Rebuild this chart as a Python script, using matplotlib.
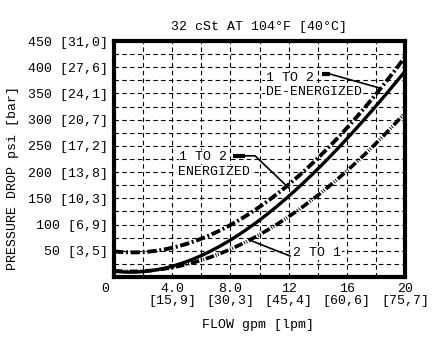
import matplotlib
matplotlib.use("Agg")
import matplotlib.pyplot as plt
import matplotlib.transforms as mtransforms
import numpy as np

# flow (gpm) and pressure drop (psi)
flow = [0, 2, 4, 6, 8, 10, 12, 14, 16, 18, 20]
deenergized = [47, 50, 57, 72, 98, 133, 176, 226, 285, 350, 418]
energized = [10, 12, 21, 40, 70, 108, 154, 206, 264, 326, 392]
two_to_one = [10, 13, 20, 32, 53, 79, 112, 155, 205, 258, 310]

yticks = [50, 100, 150, 200, 250, 300, 350, 400, 450]
ylabels = ["50 [3,5]", "100 [6,9]", "150 [10,3]", "200 [13,8]", "250 [17,2]",
           "300 [20,7]", "350 [24,1]", "400 [27,6]", "450 [31,0]"]
xticks = [0, 4, 8, 12, 16, 20]
xlabels = ["0", "4.0\n[15,9]", "8.0\n[30,3]", "12\n[45,4]", "16\n[60,6]", "20\n[75,7]"]

plt.rcParams['font.family'] = ['Liberation Mono', 'DejaVu Sans Mono']
fs = 9.5

fig = plt.figure(figsize=(4.34, 3.6), dpi=100)
ax = fig.add_axes([0.2627, 0.2306, 0.6705, 0.6555])

ax.set_xlim(0, 20)
ax.set_ylim(0, 450)

# dashed grid
for gx in np.arange(2, 20, 2):
    ax.axvline(gx, color='black', lw=0.8, ls=(0, (4, 3)), zorder=1)
for gy in np.arange(25, 450, 25):
    ax.axhline(gy, color='black', lw=0.8, ls=(0, (4, 3)), zorder=1)

# curves (smooth through the read points)
xs = np.linspace(0, 20, 200)
def smooth(vals):
    c = np.polyfit(flow, vals, 3)
    return np.polyval(c, xs)

ax.plot(xs, smooth(deenergized), color='black', lw=2.8,
        ls=(0, (2.4, 0.7, 0.5, 0.7)), zorder=3)
ax.plot(xs, smooth(energized), color='black', lw=2.4, zorder=3)
ax.plot(xs, smooth(two_to_one), color='black', lw=2.6,
        ls=(0, (2.4, 0.5, 0.25, 0.4, 0.25, 0.5)), zorder=3)

# annotations
box = dict(facecolor='white', edgecolor='none', pad=0.5)
ax.text(10.45, 379, "1 TO 2", fontsize=fs, va='center', ha='left', bbox=box, zorder=2)
ax.text(10.45, 353, "DE-ENERGIZED", fontsize=fs, va='center', ha='left', bbox=box, zorder=2)
ax.plot([14.3, 14.85], [387, 387], color='black', lw=3, solid_capstyle='butt', zorder=4)
ax.plot([14.85, 18.3], [387, 360], color='black', lw=1.2, zorder=4)

ax.text(4.5, 229, "1 TO 2", fontsize=fs, va='center', ha='left', bbox=box, zorder=2)
ax.text(4.4, 201, "ENERGIZED", fontsize=fs, va='center', ha='left', bbox=box, zorder=2)
ax.plot([8.2, 9.0], [231, 231], color='black', lw=3, solid_capstyle='butt', zorder=4)
ax.plot([9.0, 9.7, 12.0], [231, 231, 170], color='black', lw=1.2, zorder=4)

ax.text(12.3, 46, "2 TO 1", fontsize=fs, va='center', ha='left', bbox=box, zorder=2)
ax.plot([12.1, 9.35], [40, 70], color='black', lw=1.2, zorder=4)

ax.set_yticks(yticks)
ax.set_yticklabels(ylabels, fontsize=fs)
ax.set_xticks(xticks)
ax.set_xticklabels(xlabels, fontsize=fs, linespacing=1.1)
ax.tick_params(length=0, pad=4)
lab0 = ax.get_xticklabels()[0]
lab0.set_transform(lab0.get_transform() +
                   mtransforms.ScaledTranslation(-0.09, 0, fig.dpi_scale_trans))

for s in ax.spines.values():
    s.set_linewidth(3)
    s.set_zorder(5)

fig.text(0.5979, 0.925, "32 cSt AT 104\u00b0F [40\u00b0C]", fontsize=fs,
         ha='center', va='center')
fig.text(0.594, 1 - 325 / 360, "FLOW gpm [lpm]", fontsize=fs, ha='center', va='center')
fig.text(13 / 434, 1 - 178 / 360, "PRESSURE DROP psi [bar]", fontsize=fs,
         rotation=90, ha='center', va='center')

fig.savefig("out.png", dpi=100)
